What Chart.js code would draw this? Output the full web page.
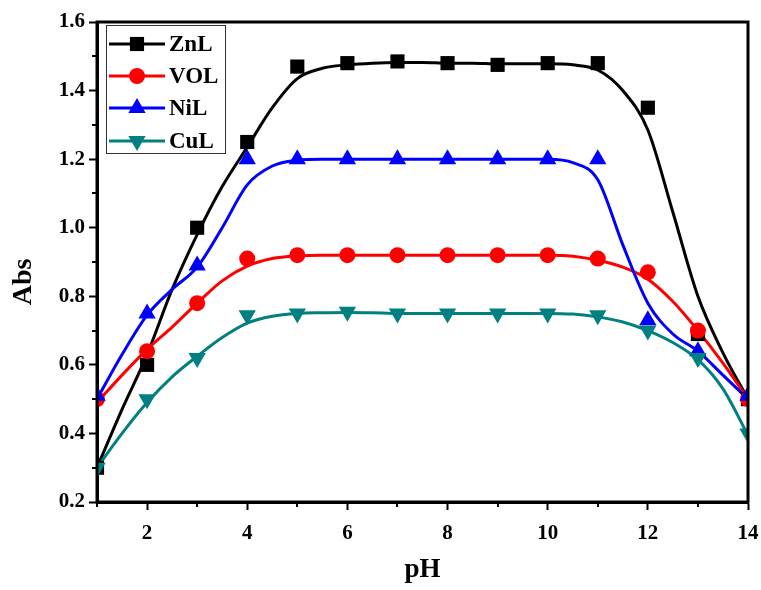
<!DOCTYPE html>
<html>
<head>
<meta charset="utf-8">
<script src="https://cdn.jsdelivr.net/npm/chart.js@4/dist/chart.umd.min.js"></script>
<style>
  html, body { margin: 0; padding: 0; background: #fff; }
  #wrap { width: 761px; height: 590px; }
</style>
</head>
<body>
<div id="wrap"><canvas id="abs-chart" width="761" height="590"></canvas></div>
<script>
// measured points
const pH = [1, 2, 3, 4, 5, 6, 7, 8, 9, 10, 11, 12, 13, 14];
const znl = [0.30, 0.60, 1.00, 1.25, 1.47, 1.48, 1.485, 1.48, 1.475, 1.48, 1.48, 1.35, 0.69, 0.50];
const vol = [0.50, 0.64, 0.78, 0.91, 0.92, 0.92, 0.92, 0.92, 0.92, 0.92, 0.91, 0.87, 0.70, 0.50];
const nil = [0.51, 0.75, 0.89, 1.20, 1.20, 1.20, 1.20, 1.20, 1.20, 1.20, 1.20, 0.73, 0.64, 0.51];
const cul = [0.30, 0.50, 0.62, 0.745, 0.75, 0.755, 0.75, 0.75, 0.75, 0.75, 0.745, 0.70, 0.62, 0.40];

// fitted curves, every half unit
const fitPH = [1, 1.5, 2, 2.5, 3, 3.5, 4, 4.5, 5, 5.5, 6, 6.5, 7, 7.5, 8, 8.5, 9, 9.5, 10, 10.5, 11, 11.5, 12, 12.5, 13, 13.5, 14];
const znlFit = [0.30, 0.47, 0.63, 0.82, 0.98, 1.12, 1.235, 1.35, 1.435, 1.465, 1.475, 1.48, 1.482, 1.482, 1.48, 1.48, 1.478, 1.478, 1.478, 1.475, 1.46, 1.40, 1.285, 1.045, 0.80, 0.635, 0.50];
const volFit = [0.49, 0.57, 0.645, 0.71, 0.78, 0.845, 0.888, 0.91, 0.918, 0.92, 0.92, 0.92, 0.92, 0.92, 0.92, 0.92, 0.92, 0.92, 0.92, 0.917, 0.905, 0.885, 0.85, 0.785, 0.70, 0.605, 0.50];
const nilFit = [0.50, 0.63, 0.745, 0.82, 0.885, 1.00, 1.125, 1.18, 1.197, 1.20, 1.20, 1.20, 1.20, 1.20, 1.20, 1.20, 1.20, 1.20, 1.20, 1.19, 1.14, 0.95, 0.78, 0.69, 0.64, 0.57, 0.50];
const culFit = [0.30, 0.40, 0.49, 0.565, 0.625, 0.68, 0.722, 0.742, 0.75, 0.752, 0.753, 0.752, 0.75, 0.75, 0.75, 0.75, 0.75, 0.75, 0.75, 0.748, 0.74, 0.725, 0.70, 0.665, 0.615, 0.53, 0.395];

const xTicks = [2, 4, 6, 8, 10, 12, 14];
const xMinor = [1, 3, 5, 7, 9, 11, 13];
const yTicks = [0.2, 0.4, 0.6, 0.8, 1.0, 1.2, 1.4, 1.6];
const yMinor = [0.3, 0.5, 0.7, 0.9, 1.1, 1.3, 1.5];

const seriesNames = ["ZnL", "VOL", "NiL", "CuL"];
const seriesColors = ["#000000", "#ff0000", "#0000ff", "#008080"];
const seriesMarkers = ["rect", "circle", "triangle", "triangle"];
const markerRadius = [10, 8, 10, 10];
const markerRotation = [0, 0, 0, 180];

const FONT = "'Liberation Serif', 'Times New Roman', serif";
const points = [znl, vol, nil, cul];
const fits = [znlFit, volFit, nilFit, culFit];

const datasets = [];
fits.forEach(function (fit, i) {
    datasets.push({
        label: seriesNames[i] + " fit",
        data: fitPH.map((x, j) => ({ x: x, y: fit[j] })),
        showLine: true,
        borderColor: seriesColors[i],
        borderWidth: 3,
        pointRadius: 0,
        cubicInterpolationMode: "monotone",
        order: 20 - i,
    });
});
points.forEach(function (vals, i) {
    datasets.push({
        label: seriesNames[i],
        data: pH.map((x, j) => ({ x: x, y: vals[j] })),
        showLine: false,
        backgroundColor: seriesColors[i],
        borderColor: seriesColors[i],
        borderWidth: 0,
        pointStyle: seriesMarkers[i],
        pointRadius: markerRadius[i],
        pointHoverRadius: markerRadius[i],
        rotation: markerRotation[i],
        order: 4 - i,
    });
});

// frame, minor ticks, y title and the boxed legend
const decorations = {
    id: "decorations",
    afterDraw(chart) {
        const ctx = chart.ctx;
        const a = chart.chartArea;
        const xs = chart.scales.x, ys = chart.scales.y;
        ctx.save();
        ctx.strokeStyle = "#000";
        ctx.lineWidth = 3;
        ctx.strokeRect(a.left, a.top, a.right - a.left, a.bottom - a.top);

        ctx.lineWidth = 2;
        ctx.beginPath();
        xMinor.forEach(function (v) {
            const px = Math.round(xs.getPixelForValue(v));
            ctx.moveTo(px, a.bottom);
            ctx.lineTo(px, a.bottom + 5);
        });
        yMinor.forEach(function (v) {
            const py = Math.round(ys.getPixelForValue(v));
            ctx.moveTo(a.left, py);
            ctx.lineTo(a.left - 5, py);
        });
        ctx.stroke();

        // y axis title, sits a little below the middle like the original
        ctx.save();
        ctx.translate(24, 282);
        ctx.rotate(-Math.PI / 2);
        ctx.font = "bold 28px " + FONT;
        ctx.fillStyle = "#000";
        ctx.textAlign = "center";
        ctx.textBaseline = "middle";
        ctx.fillText("Abs", 0, 0);
        ctx.restore();

        // legend
        const lx = 106, ly = 25, lw = 119, lh = 128;
        ctx.lineWidth = 1;
        ctx.strokeStyle = "#333";
        ctx.fillStyle = "#fff";
        ctx.fillRect(lx, ly, lw, lh);
        ctx.strokeRect(lx + 0.5, ly + 0.5, lw, lh);
        const rows = [44, 76, 108, 141];
        ctx.font = "bold 23px " + FONT;
        ctx.textBaseline = "middle";
        seriesNames.forEach(function (name, i) {
            const y = rows[i];
            ctx.strokeStyle = seriesColors[i];
            ctx.lineWidth = 3;
            ctx.beginPath();
            ctx.moveTo(109, y);
            ctx.lineTo(165, y);
            ctx.stroke();
            ctx.fillStyle = seriesColors[i];
            Chart.helpers.drawPoint(ctx, {
                pointStyle: seriesMarkers[i],
                radius: markerRadius[i],
                rotation: markerRotation[i],
                borderWidth: 0,
            }, 137, y);
            ctx.fillStyle = "#000";
            ctx.fillText(name, 169, y + 1);
        });
        ctx.restore();
    },
};

const ctx = document.getElementById("abs-chart").getContext("2d");
new Chart(ctx, {
    type: "scatter",
    data: { datasets: datasets },
    options: {
        responsive: false,
        animation: false,
        events: [],
        layout: { padding: { top: 22, right: 0, left: 0, bottom: 0 } },
        plugins: { legend: { display: false }, tooltip: { enabled: false } },
        scales: {
            x: {
                type: "linear",
                min: 1,
                max: 14,
                afterBuildTicks: (s) => { s.ticks = xTicks.map((v) => ({ value: v })); },
                afterFit: (s) => { s.height = 88; s.paddingLeft = 0; s.paddingRight = 13; },
                grid: { display: true, drawOnChartArea: false, tickLength: 8, tickWidth: 2, tickColor: "#000" },
                border: { display: true, color: "#000", width: 3 },
                ticks: {
                    color: "#000",
                    padding: 11,
                    maxRotation: 0,
                    font: { family: FONT, size: 21, weight: "bold" },
                },
                title: {
                    display: true,
                    text: "pH",
                    color: "#000",
                    font: { family: FONT, size: 27, weight: "bold" },
                    padding: { top: 16 },
                },
            },
            y: {
                type: "linear",
                min: 0.2,
                max: 1.6,
                afterBuildTicks: (s) => { s.ticks = yTicks.map((v) => ({ value: v })); },
                afterFit: (s) => { s.width = 97; s.paddingTop = 0; s.paddingBottom = 0; },
                grid: { display: true, drawOnChartArea: false, tickLength: 8, tickWidth: 2, tickColor: "#000" },
                border: { display: true, color: "#000", width: 3 },
                ticks: {
                    color: "#000",
                    padding: 4,
                    callback: (v) => Number(v).toFixed(1),
                    font: { family: FONT, size: 21, weight: "bold" },
                },
            },
        },
    },
    plugins: [decorations],
});
</script>
</body>
</html>
